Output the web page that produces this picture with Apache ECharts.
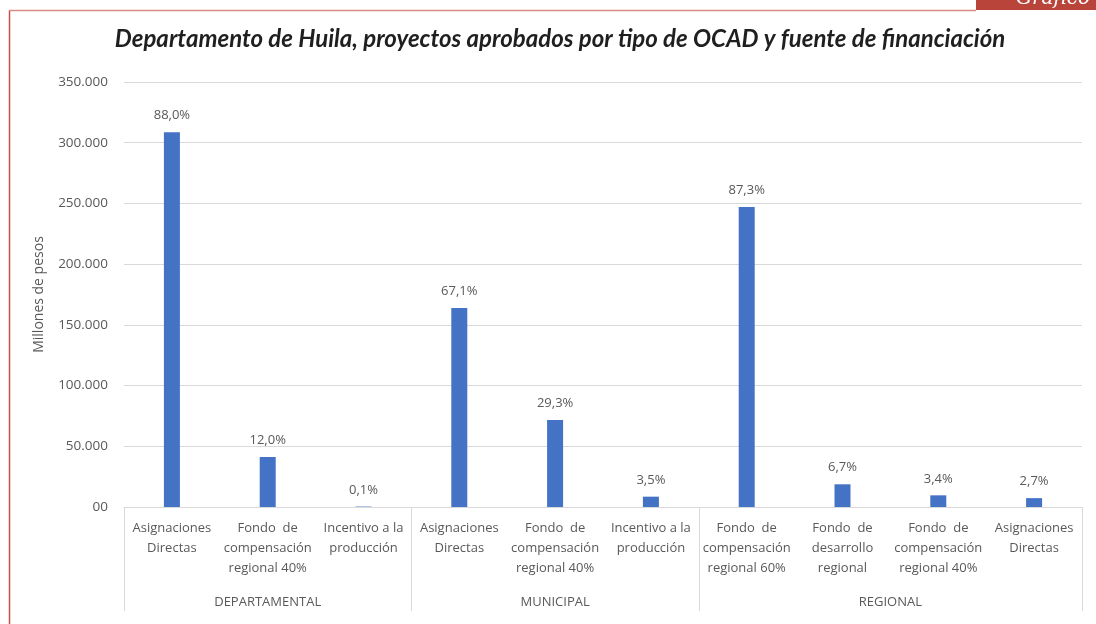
<!DOCTYPE html>
<html>
<head>
<meta charset="utf-8">
<script src="https://cdn.jsdelivr.net/npm/echarts@6/dist/echarts.min.js"></script>
<style>
	html, body { margin: 0; padding: 0; background: #fff; }
	#main { width: 1096px; height: 624px; }
</style>
</head>
<body>
<div id="main"></div>
<script>
// data
const categories = [
	'Asignaciones\nDirectas', 'Fondo  de\ncompensación\nregional 40%', 'Incentivo a la\nproducción',
	'Asignaciones\nDirectas', 'Fondo  de\ncompensación\nregional 40%', 'Incentivo a la\nproducción',
	'Fondo  de\ncompensación\nregional 60%', 'Fondo  de\ndesarrollo\nregional', 'Fondo  de\ncompensación\nregional 40%', 'Asignaciones\nDirectas'
]
const values = [308600, 41200, 350, 163900, 71600, 8500, 247000, 18700, 9600, 7300]
const percents = ['88,0%', '12,0%', '0,1%', '67,1%', '29,3%', '3,5%', '87,3%', '6,7%', '3,4%', '2,7%']
const groups = ['DEPARTAMENTAL', 'MUNICIPAL', 'REGIONAL']
const groupSizes = [3, 3, 4]
const yTickLabels = ['00', '50.000', '100.000', '150.000', '200.000', '250.000', '300.000', '350.000']

// group boundaries and centres on a 0..10 value scale
const bounds = [0]
groupSizes.forEach(n => bounds.push(bounds[bounds.length - 1] + n))
const centres = groupSizes.map((n, i) => bounds[i] + n / 2)

const grey = '#595959'
const lineGrey = '#d9d9d9'
const font = 'Open Sans'

const myChart = echarts.init(document.getElementById('main'))
myChart.setOption({
	animation: false,
	textStyle: { fontFamily: font },
	title: {
		text: 'Departamento de Huila, proyectos aprobados por tipo de OCAD y fuente de financiación',
		left: 555,
		textAlign: 'center',
		top: 22,
		textStyle: { fontFamily: 'Lato', fontStyle: 'italic', fontWeight: 'bold', fontSize: 24, color: '#1f1f1f' }
	},
	grid: { left: 124, right: 14, top: 82, bottom: 117 },
	xAxis: [
		{
			type: 'category',
			data: categories,
			axisLine: { lineStyle: { color: lineGrey } },
			axisTick: { show: false },
			axisLabel: { interval: 0, color: grey, fontSize: 13, lineHeight: 20, margin: 11 }
		},
		{
			type: 'value',
			position: 'bottom',
			min: 0,
			max: bounds[bounds.length - 1],
			axisLine: { show: false },
			splitLine: { show: false },
			axisTick: { show: true, customValues: bounds, length: 104, lineStyle: { color: lineGrey } },
			axisLabel: {
				customValues: centres,
				color: grey,
				fontSize: 13,
				margin: 89,
				formatter: v => groups[centres.indexOf(v)] || ''
			}
		}
	],
	yAxis: {
		type: 'value',
		min: 0,
		max: 350000,
		interval: 50000,
		name: 'Millones de pesos',
		nameLocation: 'middle',
		nameRotate: 90,
		nameGap: 78,
		nameTextStyle: { color: grey, fontSize: 14 },
		axisLine: { show: false },
		axisTick: { show: false },
		splitLine: { lineStyle: { color: lineGrey } },
		axisLabel: { color: grey, fontSize: 13.5, margin: 16, formatter: v => yTickLabels[Math.round(v / 50000)] }
	},
	series: [
		{
			type: 'bar',
			data: values,
			barWidth: 16,
			itemStyle: { color: '#4472c4' },
			label: {
				show: true,
				position: 'top',
				distance: 10,
				color: grey,
				fontSize: 13,
				formatter: p => percents[p.dataIndex]
			}
		}
	],
	graphic: [
		{ type: 'line', shape: { x1: 9.5, y1: 10.5, x2: 976, y2: 10.5 }, style: { stroke: '#d98b84', lineWidth: 1.5 } },
		{ type: 'line', shape: { x1: 9.5, y1: 10.5, x2: 9.5, y2: 624 }, style: { stroke: '#c9504a', lineWidth: 1.5 } },
		{ type: 'rect', shape: { x: 976, y: 0, width: 120, height: 10 }, style: { fill: '#b8443a' } },
		{ type: 'text', x: 1016, y: 9, style: { text: 'Gráfico 6', fill: '#fff', font: 'italic 20px "DejaVu Serif"', verticalAlign: 'bottom' } }
	]
})
</script>
</body>
</html>
